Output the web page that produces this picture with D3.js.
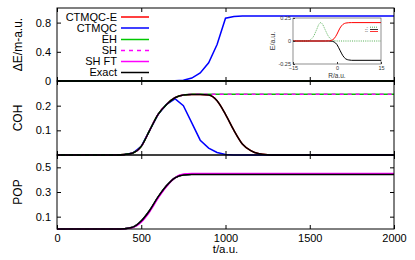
<!DOCTYPE html>
<html>
<head>
<meta charset="utf-8">
<script src="https://cdn.jsdelivr.net/npm/d3@7"></script>
<style>
  body { margin: 0; background: #fff; }
  svg { font-family: "Liberation Sans", Arial, sans-serif; }
</style>
</head>
<body>
<svg id="chart"></svg>
<script>
// ---- data ----
const seriesNames = ['CTMQC-E', 'CTMQC', 'EH', 'SH', 'SH FT', 'Exact']
const seriesColors = ['#ff0000', '#0000ff', '#00c800', '#ff00ff', '#ff00ff', '#000000']

// top panel: energy error
const tE = [0, 600, 700, 750, 800, 850, 900, 950, 1000, 1050, 1100, 2000]
const dECtmqc = [0, 0, 0.003, 0.01, 0.04, 0.11, 0.25, 0.5, 0.86, 0.885, 0.89, 0.89]
const tFlat = [0, 2000]
const dEZero = [0, 0]

// middle panel: coherence
const tC = [0, 350, 400, 450, 500, 550, 600, 650, 700, 750, 800, 850, 900, 950, 1000, 1050, 1100, 1150, 1200, 1250, 1300, 2000]
const cohExact = [0, 0, 0.002, 0.008, 0.035, 0.1, 0.165, 0.205, 0.232, 0.243, 0.245, 0.245, 0.243, 0.22, 0.165, 0.1, 0.045, 0.018, 0.005, 0.001, 0, 0]
const cohCtmqc = [0, 0, 0.002, 0.008, 0.035, 0.1, 0.165, 0.205, 0.228, 0.2, 0.13, 0.06, 0.028, 0.01, 0.002, 0, 0, 0, 0, 0, 0, 0]
const cohEH = [0, 0, 0.002, 0.008, 0.035, 0.1, 0.165, 0.205, 0.232, 0.243, 0.246, 0.246, 0.246, 0.246, 0.246, 0.246, 0.246, 0.246, 0.246, 0.246, 0.246, 0.246]
const cohSH = cohEH.slice()
const cohCtmqcE = cohExact.slice()

// bottom panel: population
const tP = [0, 350, 400, 450, 500, 550, 600, 650, 700, 750, 800, 2000]
const popExact = [0, 0, 0.003, 0.015, 0.065, 0.15, 0.26, 0.35, 0.415, 0.438, 0.441, 0.441]
const popSHFT = [0, 0, 0.002, 0.012, 0.056, 0.14, 0.25, 0.345, 0.415, 0.445, 0.449, 0.449]
const popSH = [0, 0, 0.002, 0.013, 0.06, 0.145, 0.255, 0.348, 0.416, 0.443, 0.447, 0.447]
const popOther = [0, 0, 0.003, 0.015, 0.064, 0.15, 0.258, 0.35, 0.415, 0.44, 0.443, 0.443]

// inset: potential curves and coupling
const rE = [-15, -4, -3, -2, -1, 0, 1, 2, 3, 4, 5, 15]
const eUpper = [0, 0, 0.001, 0.006, 0.025, 0.075, 0.14, 0.18, 0.195, 0.199, 0.2, 0.2]
const eLower = [0, 0, 0, -0.002, -0.01, -0.04, -0.1, -0.16, -0.195, -0.206, -0.21, -0.21]
const rN = [-15, -10, -9, -8, -7, -6, -5.5, -5, -4, -3, -2, -1, 0, 15]
const nac = [0, 0, 0.015, 0.05, 0.12, 0.19, 0.2, 0.185, 0.12, 0.055, 0.018, 0.004, 0, 0]

const xTicks = [0, 500, 1000, 1500, 2000]
const yTicksTop = [0, 0.4, 0.8]
const yTicksMid = [0.1, 0.2]
const yTicksBot = [0.1, 0.3, 0.5]

// ---- layout ----
const width = 415
const height = 260
const left = 57
const right = 394

const svg = d3.select('#chart').attr('width', width).attr('height', height)

const x = d3.scaleLinear().domain([0, 2000]).range([left, right])

const panels = [
    { top: 8, bottom: 81, domain: [0, 1], ticks: yTicksTop, label: 'ΔE/m-a.u.' },
    { top: 81, bottom: 155, domain: [0, 0.3], ticks: yTicksMid, label: 'COH' },
    { top: 155, bottom: 229, domain: [0, 0.6], ticks: yTicksBot, label: 'POP' },
]
panels.forEach((p) => {
    p.y = d3.scaleLinear().domain(p.domain).range([p.bottom, p.top])
})

function line(xs, ys, sx, sy, curve) {
    return d3.line()
        .x((d, i) => sx(xs[i]))
        .y((d) => sy(d))
        .curve(curve || d3.curveLinear)(ys)
}

function drawSeries(p, xs, ys, k, curve) {
    const path = svg.append('path')
        .attr('d', line(xs, ys, x, p.y, curve))
        .attr('fill', 'none')
        .attr('stroke', seriesColors[k])
        .attr('stroke-width', 1.5)
    if (k === 3) path.attr('stroke-dasharray', '4,4')
}

// top
drawSeries(panels[0], tFlat, dEZero, 0)
drawSeries(panels[0], tE, dECtmqc, 1)
drawSeries(panels[0], tFlat, dEZero, 2)
drawSeries(panels[0], tFlat, dEZero, 5)

// middle
const smooth = d3.curveMonotoneX
drawSeries(panels[1], tC, cohCtmqcE, 0, smooth)
drawSeries(panels[1], tC, cohCtmqc, 1)
drawSeries(panels[1], tC, cohEH, 2, smooth)
drawSeries(panels[1], tC, cohSH, 3, smooth)
drawSeries(panels[1], tC, cohExact, 5, smooth)

// bottom
drawSeries(panels[2], tP, popOther, 0, smooth)
drawSeries(panels[2], tP, popOther, 1, smooth)
drawSeries(panels[2], tP, popOther, 2, smooth)
drawSeries(panels[2], tP, popSH, 3, smooth)
drawSeries(panels[2], tP, popSHFT, 4, smooth)
drawSeries(panels[2], tP, popExact, 5, smooth)

// axes and frames
const main = svg.append('g')
panels.forEach((p, i) => {
    const fmt = (d) => (d === 0 ? '0' : d3.format('.1f')(d))
    main.append('g')
        .attr('transform', `translate(${left},0)`)
        .call(d3.axisLeft(p.y).tickValues(p.ticks).tickFormat(fmt).tickSizeInner(-4).tickSizeOuter(0).tickPadding(6))
    main.append('g')
        .attr('transform', `translate(${right},0)`)
        .call(d3.axisRight(p.y).tickValues(p.ticks).tickFormat('').tickSizeInner(-4).tickSizeOuter(0))
    main.append('g')
        .attr('transform', `translate(0,${p.top})`)
        .call(d3.axisTop(x).tickValues(xTicks).tickFormat('').tickSizeInner(-4).tickSizeOuter(0))
    const bx = d3.axisBottom(x).tickValues(xTicks).tickFormat(d3.format('d')).tickSizeInner(-4).tickSizeOuter(0).tickPadding(5)
    if (i < 2) bx.tickFormat('')
    main.append('g')
        .attr('transform', `translate(0,${p.bottom})`)
        .call(bx)

    main.append('rect')
        .attr('x', left).attr('y', p.top)
        .attr('width', right - left).attr('height', p.bottom - p.top)
        .attr('fill', 'none').attr('stroke', '#000').attr('stroke-width', 1)

    main.append('text')
        .attr('transform', `translate(22,${(p.top + p.bottom) / 2}) rotate(-90)`)
        .attr('text-anchor', 'middle')
        .attr('font-size', 12)
        .text(p.label)
})

main.selectAll('.domain').remove()
main.selectAll('.tick text').attr('font-size', 11).attr('fill', '#000')
main.selectAll('.tick line').attr('stroke', '#000')

svg.append('text')
    .attr('x', x(1000)).attr('y', 253)
    .attr('text-anchor', 'middle')
    .attr('font-size', 11.5)
    .text('t/a.u.')

// legend
const legendY = [17, 28, 39.5, 50.5, 61.5, 72.5]
seriesNames.forEach((name, k) => {
    svg.append('text')
        .attr('x', 117).attr('y', legendY[k])
        .attr('dy', '0.35em')
        .attr('text-anchor', 'end')
        .attr('font-size', 11)
        .text(name)
    const l = svg.append('line')
        .attr('x1', 121).attr('x2', 149)
        .attr('y1', legendY[k]).attr('y2', legendY[k])
        .attr('stroke', seriesColors[k])
        .attr('stroke-width', 1.5)
    if (k === 3) l.attr('stroke-dasharray', '4,4')
})

// inset
const ix = d3.scaleLinear().domain([-15, 15]).range([293, 381])
const iy = d3.scaleLinear().domain([-0.25, 0.25]).range([64, 18])

svg.append('rect')
    .attr('x', 293).attr('y', 18).attr('width', 88).attr('height', 46)
    .attr('fill', '#fff')

svg.append('path')
    .attr('d', line(rN, nac, ix, iy, smooth))
    .attr('fill', 'none').attr('stroke', '#2a9a2a').attr('stroke-width', 0.8)
    .attr('stroke-dasharray', '1,1.2')
svg.append('path')
    .attr('d', line(rE, eLower, ix, iy, smooth))
    .attr('fill', 'none').attr('stroke', '#000').attr('stroke-width', 1)
svg.append('path')
    .attr('d', line(rE, eUpper, ix, iy, smooth))
    .attr('fill', 'none').attr('stroke', '#ff0000').attr('stroke-width', 1)

const ig = svg.append('g')
ig.append('g')
    .attr('transform', 'translate(293,0)')
    .call(d3.axisLeft(iy).tickValues([-0.25, 0, 0.25]).tickFormat((d) => (d === 0 ? '0' : d)).tickSizeInner(-2).tickSizeOuter(0).tickPadding(2))
ig.append('g')
    .attr('transform', 'translate(0,64)')
    .call(d3.axisBottom(ix).tickValues([-15, 0, 15]).tickSizeInner(-2).tickSizeOuter(0).tickPadding(2))
ig.selectAll('.domain').remove()
ig.selectAll('.tick text').attr('font-size', 5.5).attr('fill', '#333')
ig.selectAll('.tick line').attr('stroke', '#333')

svg.append('rect')
    .attr('x', 293).attr('y', 18).attr('width', 88).attr('height', 46)
    .attr('fill', 'none').attr('stroke', '#444').attr('stroke-width', 0.6)

svg.append('text')
    .attr('x', 337).attr('y', 78)
    .attr('text-anchor', 'middle')
    .attr('font-size', 6.5).attr('fill', '#333')
    .text('R/a.u.')
svg.append('text')
    .attr('transform', 'translate(275,41) rotate(-90)')
    .attr('text-anchor', 'middle')
    .attr('font-size', 7).attr('fill', '#333')
    .text('E/a.u.')

// inset legend
const insetKeys = ['E1', 'E2', 'd']
const insetKeyColors = ['#000', '#ff0000', '#2a9a2a']
const insetKeyY = [29.5, 31.5, 27.2]
insetKeys.forEach((k, i) => {
    svg.append('text')
        .attr('x', 368).attr('y', insetKeyY[i])
        .attr('dy', '0.35em')
        .attr('text-anchor', 'end')
        .attr('font-size', 2.5).attr('fill', '#777')
        .text(k)
    const l = svg.append('line')
        .attr('x1', 370).attr('x2', 378)
        .attr('y1', insetKeyY[i]).attr('y2', insetKeyY[i])
        .attr('stroke', insetKeyColors[i]).attr('stroke-width', 0.8)
    if (i === 2) l.attr('stroke-dasharray', '1,1')
})
</script>
</body>
</html>
